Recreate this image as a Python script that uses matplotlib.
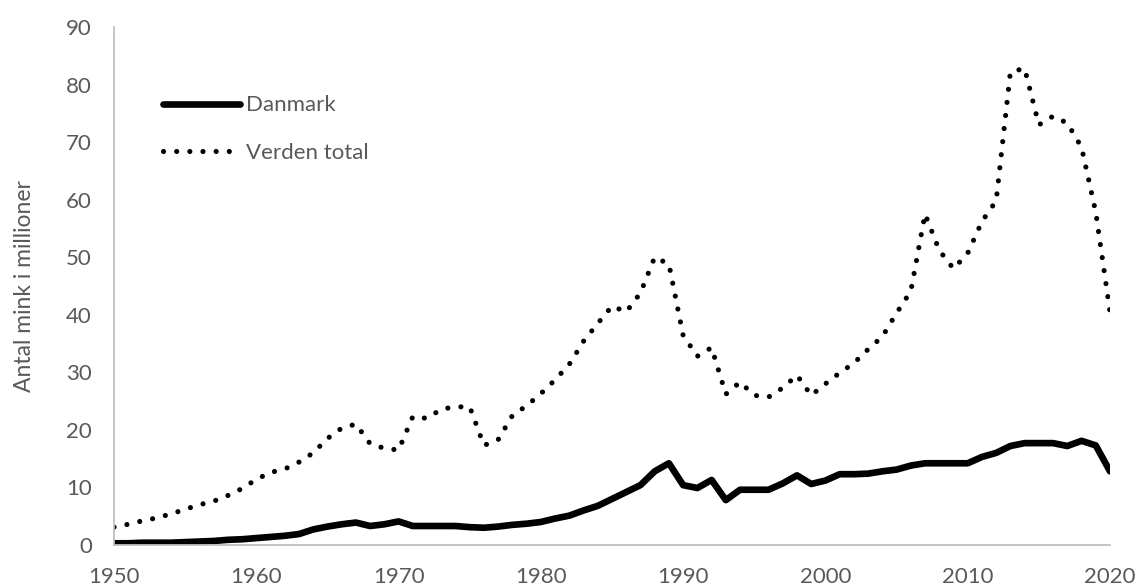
import matplotlib
matplotlib.use("Agg")
import matplotlib.pyplot as plt

# Years and mink production (millions)
years = list(range(1950, 2021))

danmark = [0.3, 0.3, 0.4, 0.4, 0.4, 0.5, 0.6, 0.7, 0.9, 1.0,
           1.2, 1.4, 1.6, 1.9, 2.7, 3.2, 3.6, 3.9, 3.3, 3.6,
           4.1, 3.3, 3.3, 3.3, 3.3, 3.1, 3.0, 3.2, 3.5, 3.7,
           4.0, 4.6, 5.1, 6.0, 6.8, 8.0, 9.2, 10.4, 12.8, 14.2,
           10.4, 9.9, 11.3, 7.8, 9.6, 9.6, 9.6, 10.7, 12.1, 10.6,
           11.2, 12.3, 12.3, 12.4, 12.8, 13.1, 13.8, 14.2, 14.2, 14.2,
           14.2, 15.3, 16.0, 17.2, 17.7, 17.7, 17.7, 17.2, 18.1, 17.3,
           12.8]

verden = [3.1, 3.6, 4.2, 4.7, 5.4, 6.2, 7.0, 7.6, 8.6, 9.8,
          11.4, 12.6, 13.2, 14.4, 16.0, 18.5, 20.3, 21.0, 17.6, 16.8,
          16.5, 22.3, 22.0, 23.6, 24.0, 24.0, 17.3, 18.3, 22.5, 24.2,
          26.3, 28.7, 31.4, 35.4, 38.5, 41.5, 40.5, 43.8, 50.0, 48.8,
          36.4, 32.8, 34.3, 26.2, 28.3, 26.0, 25.7, 27.3, 29.5, 26.0,
          28.0, 29.9, 31.6, 34.0, 36.2, 40.3, 44.1, 57.5, 51.2, 48.0,
          50.7, 56.2, 59.8, 82.2, 82.8, 73.0, 74.5, 73.3, 69.1, 57.8,
          40.5]

plt.rcParams['font.family'] = ['Lato', 'DejaVu Sans']
grey = '#595959'

fig = plt.figure(figsize=(11.37, 5.86), dpi=100)
ax = fig.add_axes([114/1137, 1 - 545/586, (1110 - 114)/1137, (545 - 27)/586])

ax.plot(years, danmark, color='black', lw=4.8, solid_capstyle='round',
        solid_joinstyle='round', label='Danmark')
ax.plot(years, verden, color='black', lw=3.7, linestyle=(0, (0.01, 2.55)),
        dash_capstyle='round', label='Verden total')

ax.set_xlim(1950, 2020)
ax.set_ylim(0, 90)
ax.set_xticks(range(1950, 2021, 10))
ax.set_yticks(range(0, 91, 10))

for s in ['top', 'right']:
    ax.spines[s].set_visible(False)
for s in ['left', 'bottom']:
    ax.spines[s].set_color('#bfbfbf')
    ax.spines[s].set_linewidth(1.3)

ax.tick_params(length=0, labelsize=16, labelcolor=grey, pad=16)
ax.set_ylabel('Antal mink i millioner', fontsize=16.5, color=grey, labelpad=22)

leg = ax.legend(loc='upper left', bbox_to_anchor=(0.0492, 0.868), frameon=False,
                fontsize=16, handlelength=3.45, handletextpad=0.27,
                labelspacing=1.25, borderpad=0, borderaxespad=0)
for t in leg.get_texts():
    t.set_color(grey)

fig.savefig('out.png', dpi=100)
